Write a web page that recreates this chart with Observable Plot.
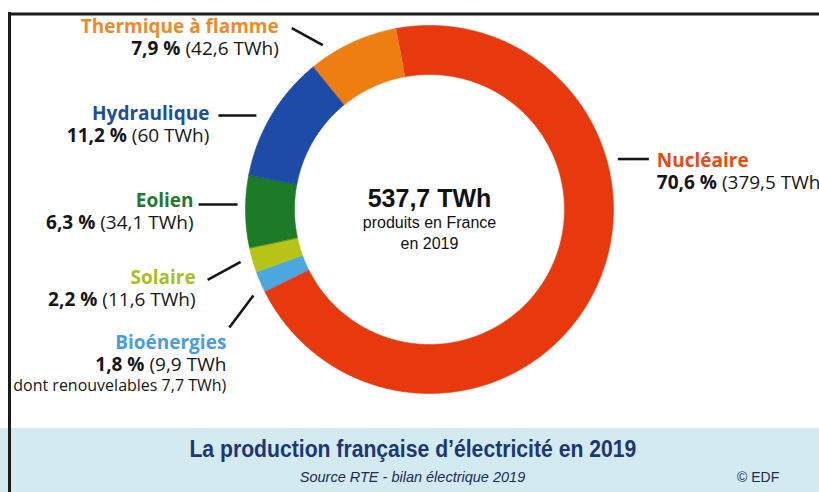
<!DOCTYPE html>
<html><head><meta charset="utf-8">
<script src="https://cdn.jsdelivr.net/npm/d3@7"></script>
<script src="https://cdn.jsdelivr.net/npm/@observablehq/plot@0.6"></script>
<style>
html,body{margin:0;padding:0;background:#fff;}
#wrap{position:relative;width:819px;height:492px;overflow:hidden;background:#fff;}
#chart{position:absolute;left:0;top:0;z-index:1;}
#band{position:absolute;left:0;top:428px;width:819px;height:64px;background:#d2eaf0;z-index:2;}
#title{position:absolute;left:0;width:825px;top:8px;text-align:center;font-family:"Liberation Sans",sans-serif;font-weight:bold;font-size:23px;color:#1c3676;white-space:nowrap;}
#title span{display:inline-block;transform:scaleX(0.92);}
#source{position:absolute;left:0;width:825px;top:41px;text-align:center;font-family:"Liberation Sans",sans-serif;font-style:italic;font-size:14.5px;color:#1d2a5a;white-space:nowrap;}
#edf{position:absolute;left:737px;top:41px;font-family:"Liberation Sans",sans-serif;font-size:14px;color:#1d2a5a;}
#leftbar{position:absolute;left:8px;top:12px;width:0;height:480px;border-left:3px solid #1c1c1c;z-index:5;}
</style>
</head><body>
<div id="wrap">
  <div id="chart"></div>
  <div id="band">
    <div id="title"><span>La production française d’électricité en 2019</span></div>
    <div id="source">Source RTE - bilan électrique 2019</div>
    <div id="edf">© EDF</div>
  </div>
  <div id="leftbar"></div>
</div>
<script>
// ---- data ----
const categories = ["Nucléaire", "Bioénergies", "Solaire", "Eolien", "Hydraulique", "Thermique à flamme"];
const twh = [379.5, 9.9, 11.6, 34.1, 60, 42.6];
const percents = [70.6, 1.8, 2.2, 6.3, 11.2, 7.9];
const notes = ["", "dont renouvelables 7,7 TWh)", "", "", "", ""];
const year = 2019;
const sliceColors = ["#e8380e", "#4aa7e0", "#b7c417", "#1c7b27", "#1f4ba8", "#ef7e12"];
const labelColors = ["#ea4b12", "#4a9edb", "#a8be22", "#1f7a2d", "#1d4d9e", "#f08a28"];

// ---- layout (pixels, 1 data unit = 1 px, origin at ring centre, y up) ----
const W = 819, H = 428, CX = 429, CY = 209;
const R_OUT = 184, R_IN = 135, START_DEG = -10.5;
const FRAME_TOP = 13.5, FRAME_LEFT = 8;
const leader = {
  "Nucléaire":          {a: 75,    r: 195, vx: 31,  vy: 0,   anchor: "start", lx: 8,   ly: 2},
  "Thermique à flamme": {a: 327,   r: 196, vx: -31, vy: -17, anchor: "end",   lx: -13, ly: -1},
  "Hydraulique":        {a: 298.5, r: 197, vx: -38, vy: 0,   anchor: "end",   lx: -9,  ly: -2},
  "Eolien":             {a: 271.5, r: 192, vx: -39, vy: 0,   anchor: "end",   lx: -5,  ly: -4},
  "Solaire":            {a: 254.5, r: 196, vx: -33, vy: 18,  anchor: "end",   lx: -12, ly: -2},
  "Bioénergies":        {a: 244,   r: 196, vx: -24, vy: 32,  anchor: "end",   lx: -3,  ly: 15}
};
const LINE = 22;

const fr = v => String(v).replace(".", ",");
const rad = d => d * Math.PI / 180;
const polar = (a, r) => [r * Math.sin(a), r * Math.cos(a)];

// slices
const pie = d3.pie().sort(null).startAngle(rad(START_DEG)).endAngle(rad(START_DEG) + 2 * Math.PI);
const arcs = pie(twh);
const ringPts = [];
arcs.forEach((a, i) => {
  const n = Math.max(4, Math.ceil((a.endAngle - a.startAngle) / rad(0.5)));
  for (let k = 0; k <= n; k++) {
    const t = a.startAngle + (a.endAngle - a.startAngle) * k / n;
    const [x, y] = polar(t, R_OUT);
    ringPts.push({cat: categories[i], x, y});
  }
  for (let k = n; k >= 0; k--) {
    const t = a.startAngle + (a.endAngle - a.startAngle) * k / n;
    const [x, y] = polar(t, R_IN);
    ringPts.push({cat: categories[i], x, y});
  }
});

// leaders & labels
const links = [], labels = [];
categories.forEach((c, i) => {
  const L = leader[c];
  const [x1, y1] = polar(rad(L.a), L.r);
  const x2 = x1 + L.vx, y2 = y1 - L.vy;
  links.push({x1, y1, x2, y2});
  const lx = x2 + L.lx, ly = y2 - L.ly;
  labels.push({cat: c, i, kind: "name", x: lx, y: ly, text: c, anchor: L.anchor});
  const val = fr(percents[i]) + " % (" + fr(twh[i]) + " TWh" + (notes[i] ? "" : ")");
  labels.push({cat: c, i, kind: "value", x: lx, y: ly - LINE, text: val, anchor: L.anchor});
  if (notes[i]) labels.push({cat: c, i, kind: "note", x: lx, y: ly - 2 * LINE + 1, text: notes[i], anchor: L.anchor});
});

const total = d3.sum(twh);
const centre = [
  {y: CY - 198, text: fr(d3.format(".1f")(total)) + " TWh", size: 25, weight: "bold"},
  {y: CY - 222, text: "produits en France", size: 16, weight: "normal"},
  {y: CY - 243, text: "en " + year, size: 16, weight: "normal"}
];

const font = "'Open Sans', sans-serif";
const narrow = "'Liberation Sans', sans-serif";

const marks = [];
categories.forEach((c, i) => {
  marks.push(Plot.line(ringPts.filter(p => p.cat === c), {
    x: "x", y: "y", fill: sliceColors[i], stroke: sliceColors[i], strokeWidth: 0.6, curve: "linear-closed"
  }));
});
marks.push(Plot.link(links, {x1: "x1", y1: "y1", x2: "x2", y2: "y2", stroke: "#151515", strokeWidth: 2.6}));
// picture frame (top edge)
marks.push(Plot.ruleY([CY - FRAME_TOP], {x1: FRAME_LEFT - CX, x2: W - CX, stroke: "#1c1c1c", strokeWidth: 3}));
["start", "end"].forEach(anchor => {
  categories.forEach((c, i) => {
    const names = labels.filter(d => d.kind === "name" && d.cat === c && d.anchor === anchor);
    if (names.length) marks.push(Plot.text(names, {x: "x", y: "y", text: "text", textAnchor: anchor,
      fill: labelColors[i], fontSize: 19, fontWeight: "bold", fontFamily: font}));
  });
  marks.push(Plot.text(labels.filter(d => d.kind === "value" && d.anchor === anchor), {x: "x", y: "y", text: "text",
    textAnchor: anchor, fill: "#161616", fontSize: 19, fontFamily: font}));
  marks.push(Plot.text(labels.filter(d => d.kind === "note" && d.anchor === anchor), {x: "x", y: "y", text: "text",
    textAnchor: anchor, fill: "#161616", fontSize: 16, fontFamily: font}));
});
centre.forEach(c => marks.push(Plot.text([c], {x: () => 0, y: "y", text: "text", fill: "#111",
  fontSize: c.size, fontWeight: c.weight, fontFamily: narrow})));

const plot = Plot.plot({
  width: W, height: H,
  marginTop: 0, marginRight: 0, marginBottom: 0, marginLeft: 0,
  x: {domain: [-CX, W - CX], axis: null},
  y: {domain: [-(H - CY), CY], axis: null},
  style: {background: "transparent", overflow: "visible"},
  marks
});
document.getElementById("chart").appendChild(plot);

// value lines: bold percentage + regular TWh part as two adjacent texts
const GAP = 5;
d3.select(plot).selectAll("text").each(function() {
  const m = /^([\d,]+ %) (.*)$/.exec(this.textContent);
  if (!m || this.childNodes.length !== 1) return;
  const anchor = getComputedStyle(this).textAnchor;
  const clone = this.cloneNode(true);
  this.parentNode.appendChild(clone);
  if (anchor === "end") {
    this.textContent = m[2];
    this.setAttribute("font-weight", "normal");
    clone.textContent = m[1];
    clone.setAttribute("font-weight", "bold");
    const w = this.getComputedTextLength();
    clone.setAttribute("dx", -(w + GAP));
  } else {
    this.textContent = m[1];
    this.setAttribute("font-weight", "bold");
    clone.textContent = m[2];
    clone.setAttribute("font-weight", "normal");
    const w = this.getComputedTextLength();
    clone.setAttribute("dx", w + GAP);
  }
});
</script>
</body></html>
